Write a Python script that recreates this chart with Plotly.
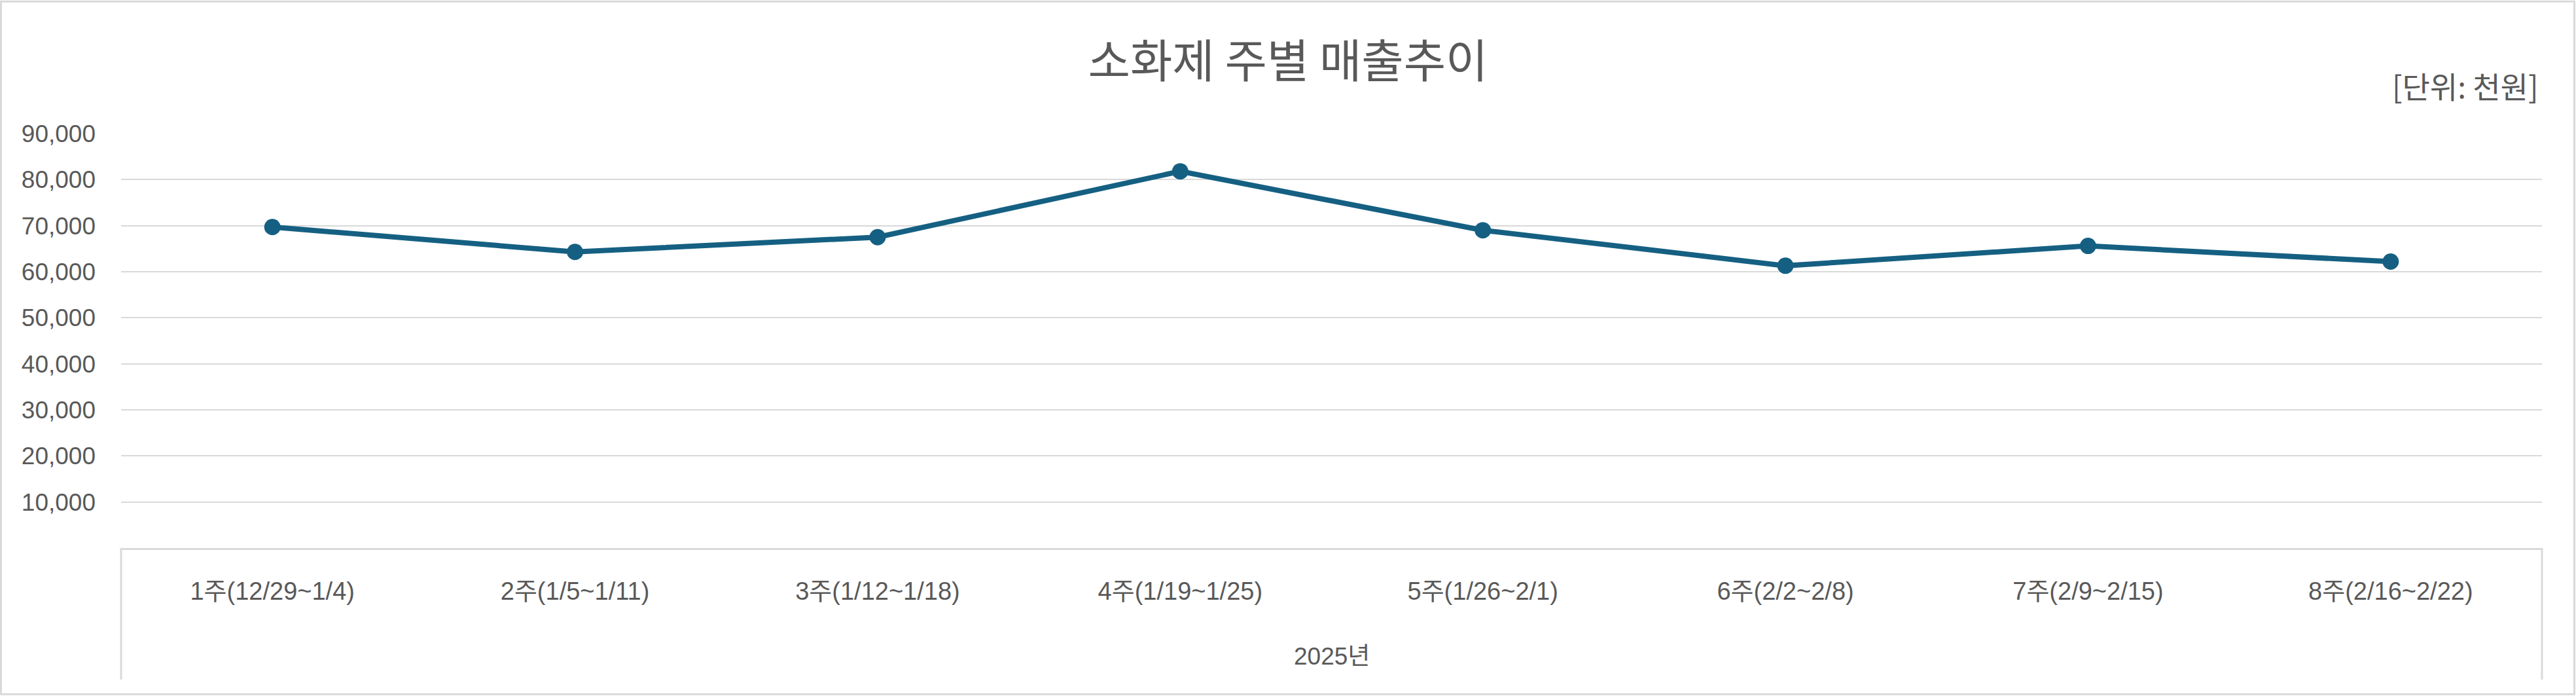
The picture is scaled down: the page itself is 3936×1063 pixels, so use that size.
import plotly.graph_objects as go

# ---- data ----
categories = ["1주(12/29~1/4)", "2주(1/5~1/11)", "3주(1/12~1/18)", "4주(1/19~1/25)",
              "5주(1/26~2/1)", "6주(2/2~2/8)", "7주(2/9~2/15)", "8주(2/16~2/22)"]
sales = [69700, 64300, 67500, 81800, 69000, 61300, 65600, 62200]
year_label = "2025년"
y_tickvals = [10000, 20000, 30000, 40000, 50000, 60000, 70000, 80000, 90000]
y_ticktext = ["10,000", "20,000", "30,000", "40,000", "50,000", "60,000", "70,000", "80,000", "90,000"]
title_text = "소화제 주별 매출추이"
unit_text = "[단위: 천원]"

# ---- layout geometry (pixels) ----
W, H = 3936, 1063
L, R, T, B = 185, 52, 203.5, 226
PW, PH = W - L - R, H - T - B

def px(x):
    return (x - L) / PW

def py(y):
    return (H - B - y) / PH

TEXT = "#595959"
GRID = "#d9d9d9"
LINE = "#156082"
FONT = "Liberation Sans, Arial, Noto Sans CJK KR, sans-serif"
KFONT = "Noto Sans CJK KR, Liberation Sans, sans-serif"

fig = go.Figure()
fig.add_trace(go.Scatter(
    x=categories, y=sales, mode="lines+markers",
    line=dict(color=LINE, width=8),
    marker=dict(color=LINE, size=25),
    showlegend=False,
))

fig.update_layout(
    width=W, height=H,
    margin=dict(l=L, r=R, t=T, b=B, autoexpand=False),
    paper_bgcolor="white", plot_bgcolor="white",
    title=dict(text=title_text, x=0.5, xref="container", xanchor="center",
               y=1 - 94 / H, yref="container", yanchor="middle",
               font=dict(family=KFONT, size=70, color=TEXT)),
    xaxis=dict(type="category", range=[-0.5, len(categories) - 0.5],
               showgrid=False, showline=True, linecolor=GRID, linewidth=3,
               ticks="", ticklabelstandoff=30, automargin=False,
               tickfont=dict(family=FONT, size=38, color=TEXT),
               zeroline=False, fixedrange=True),
    yaxis=dict(range=[0, 90000], tickvals=y_tickvals, ticktext=y_ticktext,
               showgrid=True, gridcolor=GRID, gridwidth=2,
               showline=False, zeroline=False, ticks="", automargin=False,
               ticklabelstandoff=38,
               tickfont=dict(family=FONT, size=37, color=TEXT),
               fixedrange=True),
)

# outer chart border
fig.add_shape(type="rect", xref="paper", yref="paper",
              x0=px(1.5), x1=px(W - 2.5), y0=py(H - 2.5), y1=py(1.5),
              line=dict(color=GRID, width=3), fillcolor="rgba(0,0,0,0)", layer="below")
# category box sides
for xv in (0, 1):
    fig.add_shape(type="line", xref="paper", yref="paper",
                  x0=xv, x1=xv, y0=0, y1=py(1038),
                  line=dict(color=GRID, width=3))

fig.add_annotation(text=year_label, xref="paper", yref="paper",
                   x=0.5, y=py(1003), xanchor="center", yanchor="middle",
                   showarrow=False, font=dict(family=FONT, size=37, color=TEXT))
fig.add_annotation(text=unit_text, xref="paper", yref="paper",
                   x=px(3880), y=py(129), xanchor="right", yanchor="middle",
                   showarrow=False, font=dict(family=KFONT, size=46, color=TEXT))

fig.write_html(
    "out.html",
    config={"displayModeBar": False},
    post_script="document.body.style.margin='0';document.body.style.overflow='hidden';",
)
